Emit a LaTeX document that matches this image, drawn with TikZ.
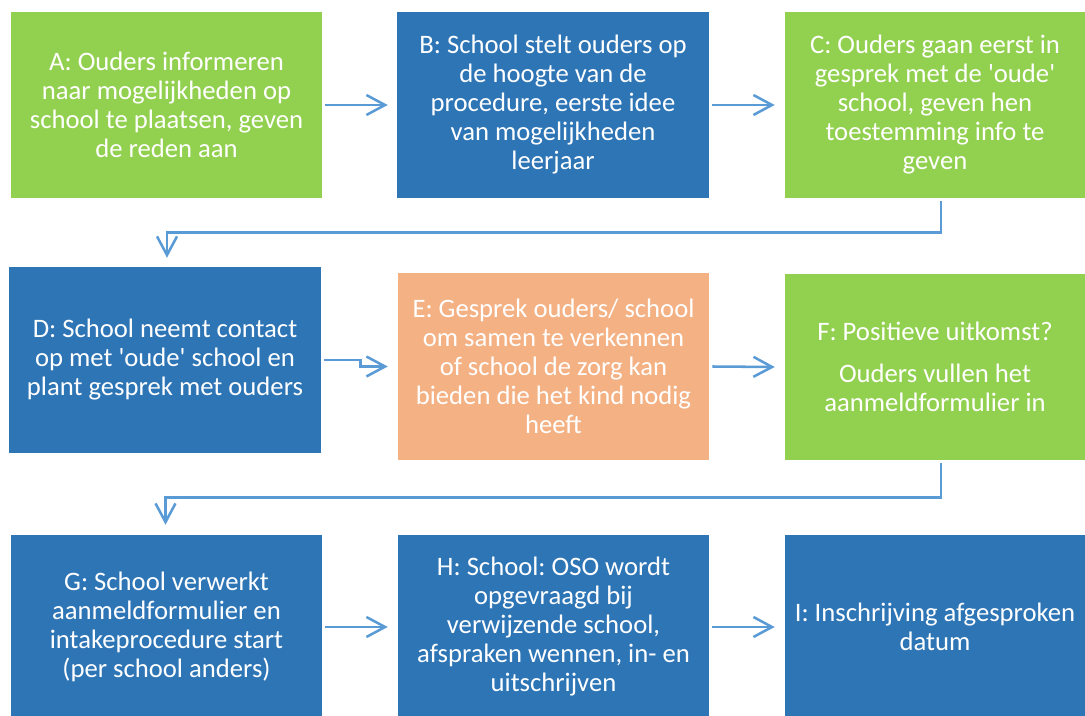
\documentclass[tikz,border=0pt]{standalone}
\usepackage{fontspec}
\setmainfont{Carlito}
\usetikzlibrary{arrows.meta,calc}
\frenchspacing
\definecolor{boxgreen}{HTML}{92D050}
\definecolor{boxblue}{HTML}{2E75B6}
\definecolor{boxorange}{HTML}{F4B183}
\definecolor{arrblue}{HTML}{5B9BD5}
\newcommand{\sq}{\textquotesingle}
\tikzset{
  box/.style={draw=none, inner sep=0pt, text=white, align=center,
    font=\fontsize{20}{21.75}\selectfont\frenchspacing},
  gbox/.style={box, fill=boxgreen},
  bbox/.style={box, fill=boxblue},
  obox/.style={box, fill=boxorange},
  arr/.style={draw=arrblue, line width=1.9pt,
    -{Straight Barb[length=14pt,width=15pt,line width=1.9pt]}},
}
\begin{document}
\begin{tikzpicture}[x=0.75pt,y=-0.75pt]
\useasboundingbox (0,0) rectangle (1085,716);
% row 1
\node[gbox, minimum width=233.25pt, minimum height=139.5pt] (A) at (166.5,105)
  {A: Ouders informeren\\naar mogelijkheden op\\school te plaatsen, geven\\de reden aan};
\node[bbox, minimum width=234pt, minimum height=139.5pt] (B) at (553,105)
  {B: School stelt ouders op\\de hoogte van de\\procedure, eerste idee\\van mogelijkheden\\leerjaar};
\node[gbox, minimum width=225pt, minimum height=139.5pt] (C) at (935,105)
  {C: Ouders gaan eerst in\\gesprek met de \sq oude\sq\\school, geven hen\\toestemming info te\\geven};
% row 2
\node[bbox, minimum width=234pt, minimum height=139.5pt] (D) at (165,360)
  {D: School neemt contact\\op met \sq oude\sq{} school en\\plant gesprek met ouders};
\node[obox, minimum width=233.25pt, minimum height=140.25pt] (E) at (553.5,366.5)
  {E: Gesprek ouders/ school\\om samen te verkennen\\of school de zorg kan\\bieden die het kind nodig\\heeft};
\node[gbox, minimum width=225pt, minimum height=139.5pt] (F) at (935,367)
  {F: Positieve uitkomst?\\[9.75pt]Ouders vullen het\\aanmeldformulier in};
% row 3
\node[bbox, minimum width=233.25pt, minimum height=138pt] (G) at (166.5,627)
  {G: School verwerkt\\aanmeldformulier en\\intakeprocedure start\\(per school anders)};
\node[bbox, minimum width=233.25pt, minimum height=138pt] (H) at (553.5,627)
  {H: School: OSO wordt\\opgevraagd bij\\verwijzende school,\\afspraken wennen, in- en\\uitschrijven};
\node[bbox, minimum width=225pt, minimum height=138pt] (I) at (935,627)
  {I: Inschrijving afgesproken\\datum};
% connectors
\draw[arr] ($(A.east)+(3,0)$) -- ($(B.west)+(-9,0)$);
\draw[arr] ($(B.east)+(3,0)$) -- ($(C.west)+(-10,0)$);
\draw[arr] ($(C.south)+(6,3)$) -- ++(0,31) -| ($(D.north)+(2,-9)$);
\draw[arr] ($(D.east)+(3,0)$) -- ++(36,0) |- ($(E.west)+(-10,0)$);
\draw[arr] ($(E.east)+(3,0)$) -- ($(F.west)+(-10,0)$);
\draw[arr] ($(F.south)+(6,3)$) -- ++(0,34) -| ($(G.north)+(-1,-10)$);
\draw[arr] ($(G.east)+(3,0)$) -- ($(H.west)+(-10,0)$);
\draw[arr] ($(H.east)+(3,0)$) -- ($(I.west)+(-10,0)$);
\end{tikzpicture}
\end{document}
